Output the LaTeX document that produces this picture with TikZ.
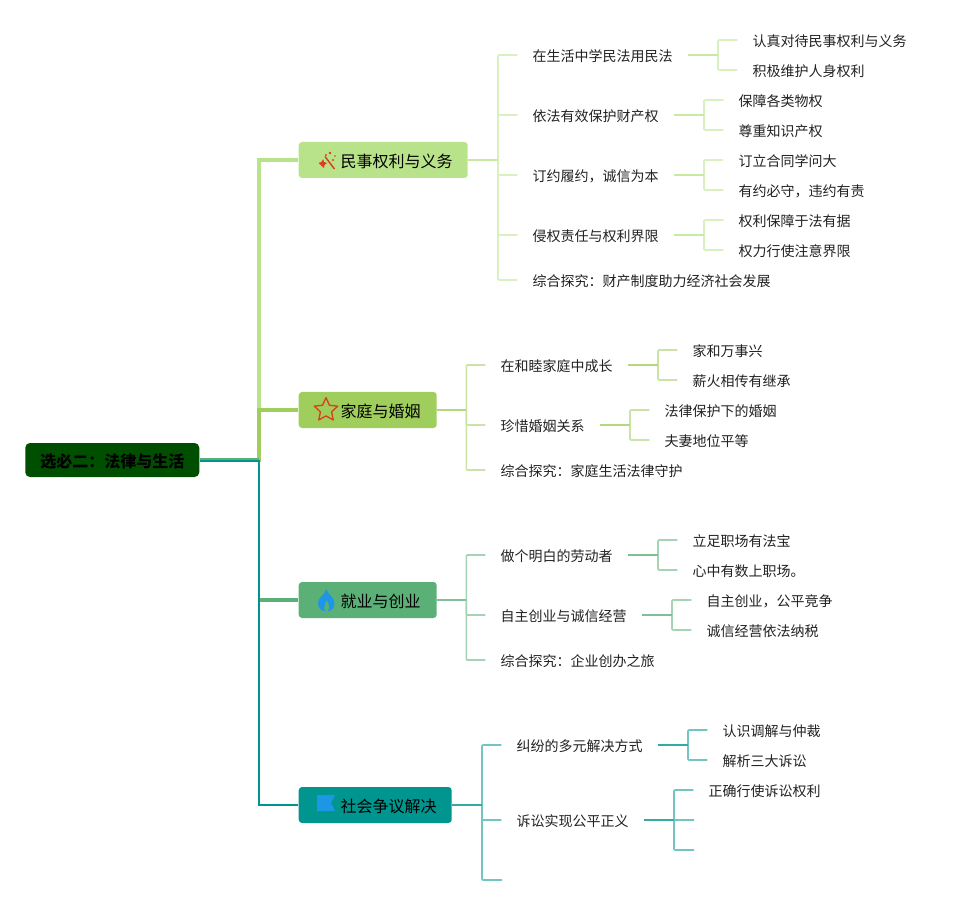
\documentclass[tikz,border=0pt]{standalone}
\usepackage{fontspec}
\setmainfont{Noto Sans CJK SC}
\usetikzlibrary{shapes.geometric}
\definecolor{cA}{HTML}{B9E38A}
\definecolor{cB}{HTML}{A0CE5C}
\definecolor{cC}{HTML}{5BB078}
\definecolor{cD}{HTML}{00968F}
\definecolor{rootc}{HTML}{004F00}
\definecolor{inkc}{HTML}{222222}
\definecolor{iconr}{HTML}{D9401E}
\definecolor{iconb}{HTML}{1E96E6}
\tikzset{
  leaf/.style={anchor=west,xshift=-0.4pt,inner sep=0pt,text height=9.4pt,text depth=0pt,font=\fontsize{10.5pt}{12pt}\selectfont,text=inkc},
  topicbox/.style={anchor=west,xshift=-0.4pt,fill=#1,rounded corners=2.5pt,minimum height=27pt,inner ysep=0pt,inner xsep=0pt,text=black,font=\fontsize{12pt}{14pt}\selectfont,text height=10.6pt,text depth=0pt,align=left},
  rootbox/.style={anchor=west,fill=rootc,rounded corners=3.5pt,minimum height=25.5pt,minimum width=130.5pt,inner sep=0pt,text=black,font=\fontsize{12pt}{14pt}\selectfont\bfseries,text height=10.6pt,text depth=0pt},
  trunk/.style={draw=#1,line width=3.2pt},
  stem/.style={draw=#1!80!white,line width=1.6pt},
  spine/.style={draw=#1!55!white,line width=1.25pt,rounded corners=.8pt},
}
% spine and stem between a child node and its own leaves
\newcommand\famA[3]{% colour, parent, leaves
  \foreach \k in {#3}{\draw[spine=#1] ([xshift=33.75pt]#2.east) |- ([xshift=-11.25pt]\k.west);}
  \draw[stem=#1] ([xshift=11.25pt]#2.east) -- ([xshift=33.75pt]#2.east);}
\begin{document}
\begin{tikzpicture}[x=0.75pt,y=-0.75pt]
\useasboundingbox (0,0) rectangle (967,905);
\fill[white] (0,0) rectangle (967,905);

% root and topics
\node[rootbox] (root) at (25,460) {选必二：法律与生活};
\coordinate (hub) at (259,460);
\node[topicbox=cA,minimum width=126.75pt,text width=126.75pt] (t1) at (299,160) {\hspace*{31.5pt}民事权利与义务};
\node[topicbox=cB,minimum width=103.5pt,text width=103.5pt] (t2) at (299,410) {\hspace*{31.5pt}家庭与婚姻};
\node[topicbox=cC,minimum width=103.5pt,text width=103.5pt] (t3) at (299,600) {\hspace*{31.5pt}就业与创业};
\node[topicbox=cD,minimum width=114.75pt,text width=114.75pt] (t4) at (299,805) {\hspace*{31.5pt}社会争议解决};

% level 2, topic 1
\node[leaf] (a1) at (533,55) {在生活中学民法用民法};
\node[leaf] (a2) at (533,115) {依法有效保护财产权};
\node[leaf] (a3) at (533,175) {订约履约，诚信为本};
\node[leaf] (a4) at (533,235) {侵权责任与权利界限};
\node[leaf] (a5) at (533,280) {综合探究：财产制度助力经济社会发展};
\node[leaf] (a11) at (753,40) {认真对待民事权利与义务};
\node[leaf] (a12) at (753,70) {积极维护人身权利};
\node[leaf] (a21) at (739,100) {保障各类物权};
\node[leaf] (a22) at (739,130) {尊重知识产权};
\node[leaf] (a31) at (739,160) {订立合同学问大};
\node[leaf] (a32) at (739,190) {有约必守，违约有责};
\node[leaf] (a41) at (739,220) {权利保障于法有据};
\node[leaf] (a42) at (739,250) {权力行使注意界限};

% topic 2
\node[leaf] (b1) at (501,365) {在和睦家庭中成长};
\node[leaf] (b2) at (501,425) {珍惜婚姻关系};
\node[leaf] (b3) at (501,470) {综合探究：家庭生活法律守护};
\node[leaf] (b11) at (693,350) {家和万事兴};
\node[leaf] (b12) at (693,380) {薪火相传有继承};
\node[leaf] (b21) at (665,410) {法律保护下的婚姻};
\node[leaf] (b22) at (665,440) {夫妻地位平等};

% topic 3
\node[leaf] (c1) at (501,555) {做个明白的劳动者};
\node[leaf] (c2) at (501,615) {自主创业与诚信经营};
\node[leaf] (c3) at (501,660) {综合探究：企业创办之旅};
\node[leaf] (c11) at (693,540) {立足职场有法宝};
\node[leaf] (c12) at (693,570) {心中有数上职场。};
\node[leaf] (c21) at (707,600) {自主创业，公平竞争};
\node[leaf] (c22) at (707,630) {诚信经营依法纳税};

% topic 4
\node[leaf] (d1) at (517,745) {纠纷的多元解决方式};
\node[leaf] (d2) at (517,820) {诉讼实现公平正义};
\coordinate (d3) at (517,880);
\node[leaf] (d11) at (723,730) {认识调解与仲裁};
\node[leaf] (d12) at (723,760) {解析三大诉讼};
\node[leaf] (d21) at (709,790) {正确行使诉讼权利};
\coordinate (d22) at (709,820);
\coordinate (d23) at (709,850);

% trunk connectors
\draw[trunk=cA] (root.east) -- (hub) |- (t1.west);
\draw[trunk=cB] (root.east) -- (hub) |- (t2.west);
\draw[draw=cC,line width=3pt] (root.east) -- (hub);
\draw[draw=cC,line width=2pt] (hub) -- (hub |- t3.west);
\draw[draw=cC,line width=3pt] (hub |- t3.west) -- (t3.west);
\draw[draw=cD,line width=1.7pt] ([yshift=-.8pt]root.east) -- ([yshift=-.8pt]hub) |- (t4.west);

% topic 1 branches
\foreach \k in {a1,a2,a3,a4,a5}{\draw[spine=cA] ([xshift=22.5pt]t1.east) |- ([xshift=-11.25pt]\k.west);}
\draw[stem=cA] (t1.east) -- ([xshift=22.5pt]t1.east);
\famA{cA}{a1}{a11,a12}
\famA{cA}{a2}{a21,a22}
\famA{cA}{a3}{a31,a32}
\famA{cA}{a4}{a41,a42}

% topic 2 branches
\foreach \k in {b1,b2,b3}{\draw[spine=cB] ([xshift=22pt]t2.east) |- ([xshift=-11.25pt]\k.west);}
\draw[stem=cB] (t2.east) -- ([xshift=22pt]t2.east);
\famA{cB}{b1}{b11,b12}
\famA{cB}{b2}{b21,b22}

% topic 3 branches
\foreach \k in {c1,c2,c3}{\draw[spine=cC] ([xshift=22pt]t3.east) |- ([xshift=-11.25pt]\k.west);}
\draw[stem=cC] (t3.east) -- ([xshift=22pt]t3.east);
\famA{cC}{c1}{c11,c12}
\famA{cC}{c2}{c21,c22}

% topic 4 branches
\foreach \k in {d1,d2,d3}{\draw[spine=cD] ([xshift=22.5pt]t4.east) |- ([xshift=-11.25pt]\k.west);}
\draw[stem=cD] (t4.east) -- ([xshift=22.5pt]t4.east);
\famA{cD}{d1}{d11,d12}
\famA{cD}{d2}{d21,d22,d23}

% icons
\draw[iconr,line width=1.1pt] (325,156.5) -- (334.5,169);
\fill[iconr] (318.5,163) -- (321.5,162) -- (323,159) -- (324,162) -- (327,163) -- (324.5,165) -- (324,168) -- (321.5,166) -- cycle;
\fill[iconr] (330,153) circle (1.1pt) (326,155) circle (.8pt) (333,160) circle (.8pt) (335,156) circle (.7pt);
\node[star,star points=5,star point ratio=2.1,draw=iconr,line width=1pt,line join=round,inner sep=0pt,minimum size=18.5pt,fill=none] (ic2) at (326,410) {};
\fill[iconb] (326.5,589) .. controls (327,594) and (334,596) .. (334.5,603) .. controls (334.8,608) and (331,611) .. (328,611)
  .. controls (330,608) and (329.5,604) .. (326.5,600) .. controls (325,604) and (323,608) .. (325,611)
  .. controls (321,611) and (318,608) .. (318,603) .. controls (318,597) and (325,595) .. (326.5,589) -- cycle;
\fill[iconb] (317,795) -- (335,795) -- (331,803) -- (335,811) -- (317,811) -- cycle;
\end{tikzpicture}
\end{document}
